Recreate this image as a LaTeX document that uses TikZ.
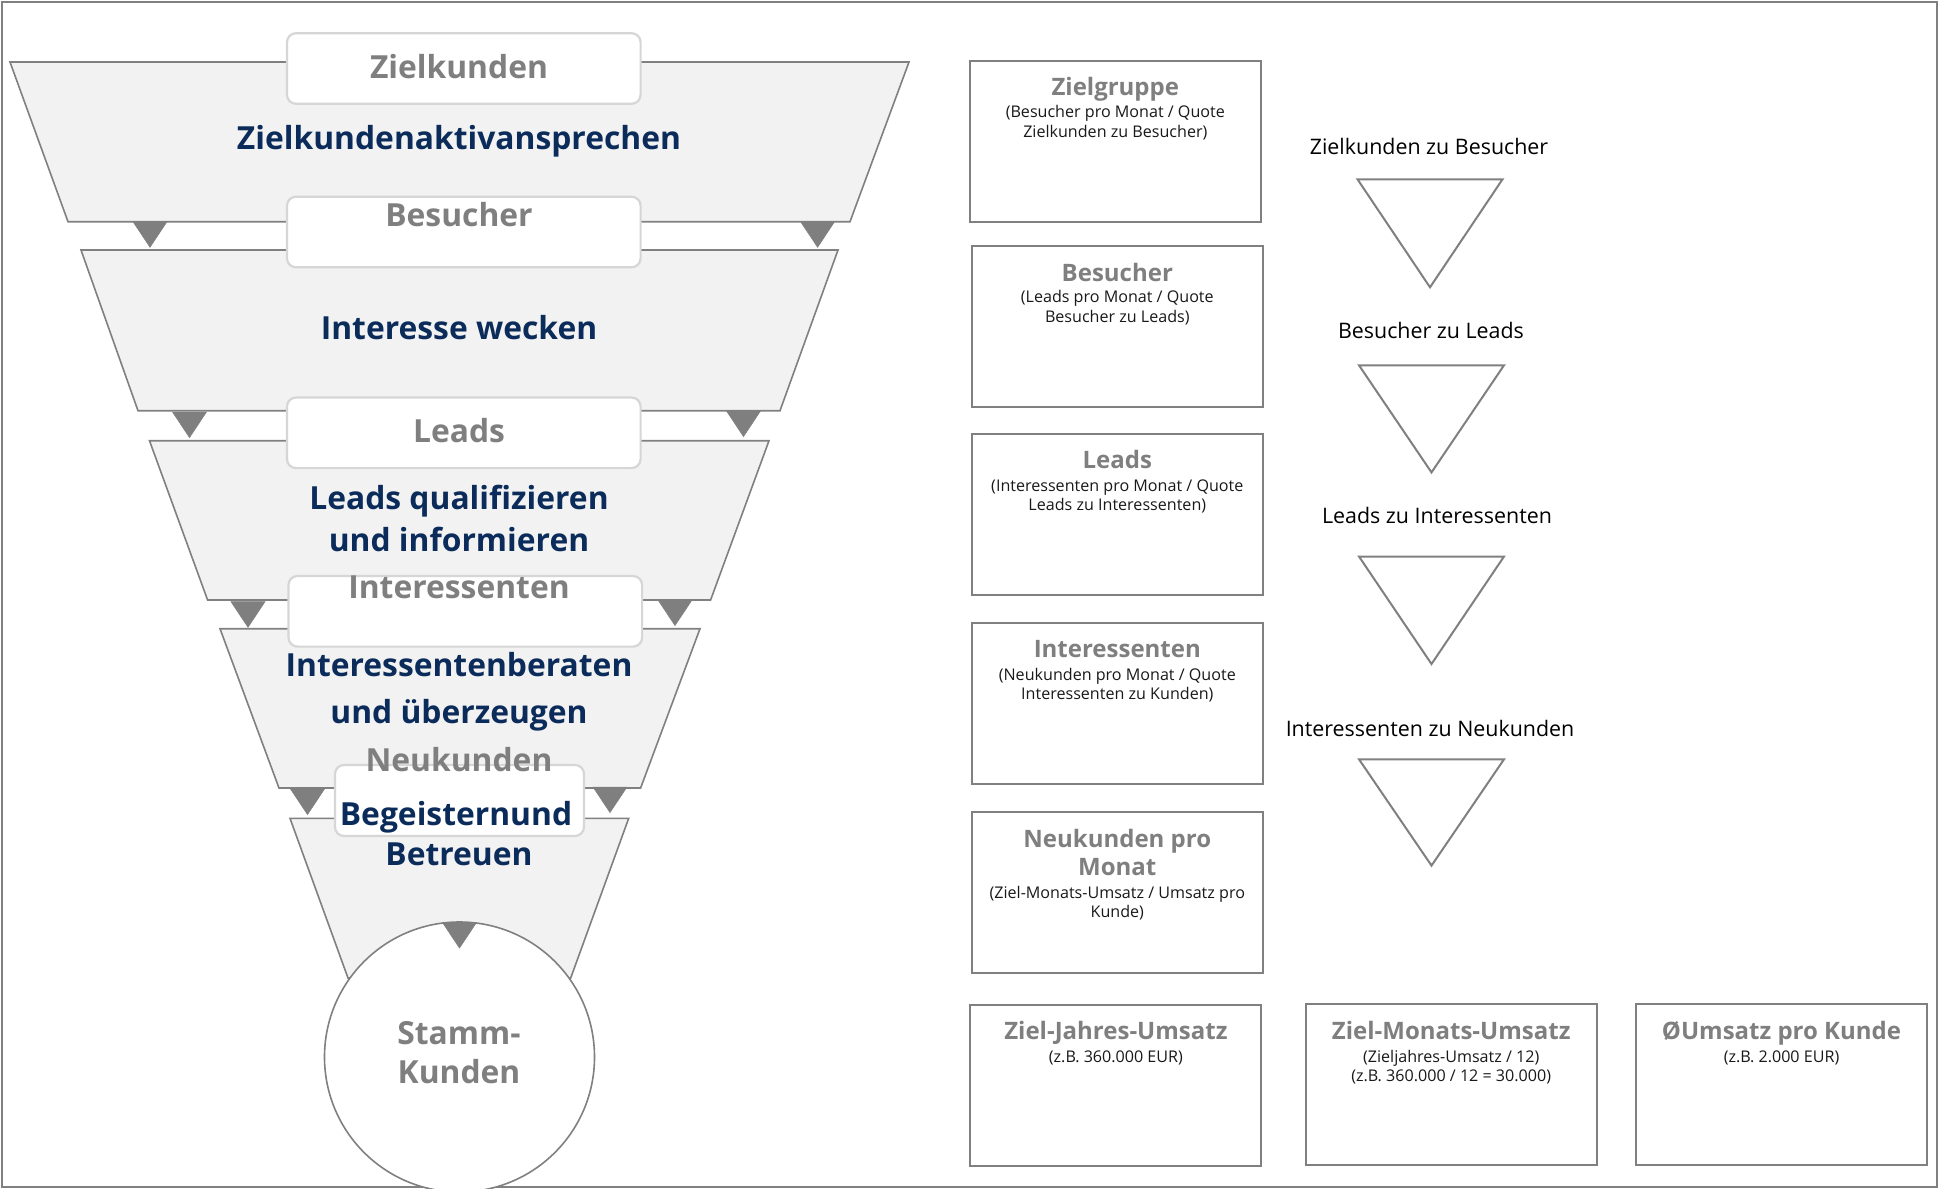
\documentclass[tikz,border=0pt]{standalone}
\usepackage{fontspec}
\setmainfont{Open Sans}
\definecolor{linegray}{HTML}{808080}
\definecolor{labgray}{HTML}{7F7F7F}
\definecolor{trigray}{HTML}{7F7F7F}
\definecolor{layerfill}{HTML}{F2F2F2}
\definecolor{tagborder}{HTML}{D6D6D6}
\definecolor{navy}{HTML}{0B2C5A}
\tikzset{
 layer/.style={fill=layerfill, draw=linegray, line width=1.6pt, line join=miter},
 tagbox/.style={draw=tagborder, fill=white, line width=2.2pt, rounded corners=9pt, minimum width=353.6pt, minimum height=70.6pt, inner sep=0pt},
 downtri/.style={fill=trigray, draw=trigray, line width=0.5pt},
 stagetxt/.style={text=labgray, font=\fontsize{31.8}{38}\selectfont\bfseries, anchor=base, inner sep=0pt, yshift=-1.3pt},
 actiontxt/.style={text=navy, font=\fontsize{31.8}{38}\selectfont\bfseries, anchor=base, inner sep=0pt, yshift=-1.3pt},
 calcbox/.style={draw=linegray, fill=white, line width=2pt, minimum width=291pt, minimum height=161pt, inner sep=0pt},
 calctitle/.style={text=labgray, font=\fontsize{24}{29}\selectfont\bfseries, anchor=base, inner sep=0pt, yshift=-1.2pt},
 calcsub/.style={text=black!90, font=\fontsize{16.1}{19}\selectfont, anchor=base, inner sep=0pt, yshift=-0.6pt},
 ratetxt/.style={text=black, font=\fontsize{21.4}{26}\selectfont, anchor=base, inner sep=0pt, yshift=-0.8pt},
 ratetri/.style={draw=linegray, fill=white, line width=2pt, line join=miter},
}
\begin{document}
\begin{tikzpicture}[x=1pt,y=-1pt]
\useasboundingbox (0,0) rectangle (1939,1189);
\begin{scope}
\clip (0,0) rectangle (1939,1189);
\fill[white] (0,0) rectangle (1939,1189);
\draw[linegray, line width=2pt] (2,2) rectangle (1937,1187);

% funnel layers
\draw[layer] (10,62) -- (909,62) -- (850,221.7) -- (68,221.7) -- cycle;
\draw[layer] (81,250) -- (838,250) -- (780,410.7) -- (138,410.7) -- cycle;
\draw[layer] (149.5,440.7) -- (769,440.7) -- (710.6,600) -- (207.6,600) -- cycle;
\draw[layer] (220,628.7) -- (700,628.7) -- (640.6,788) -- (279,788) -- cycle;
\draw[layer] (290,818.3) -- (628.7,818.3) -- (570.7,978) -- (348,978) -- cycle;

% small arrow triangles
\draw[downtri] (133,221.7) -- ++(34,0) -- ++(-17,25.6) -- cycle;
\draw[downtri] (800.6,221.7) -- ++(34,0) -- ++(-17,25.6) -- cycle;
\draw[downtri] (172.5,412) -- ++(34,0) -- ++(-17,25.6) -- cycle;
\draw[downtri] (726.5,411) -- ++(34,0) -- ++(-17,25.6) -- cycle;
\draw[downtri] (231,601.7) -- ++(34,0) -- ++(-17,25.6) -- cycle;
\draw[downtri] (658,600) -- ++(34,0) -- ++(-17,25.6) -- cycle;
\draw[downtri] (290.5,789) -- ++(34,0) -- ++(-17,25.6) -- cycle;
\draw[downtri] (593,787) -- ++(34,0) -- ++(-17,25.6) -- cycle;

% stage tag boxes
\node[tagbox] (tag1) at (463.8,68.5) {};
\node[tagbox] (tag2) at (463.8,232) {};
\node[tagbox] (tag3) at (463.8,432.8) {};
\node[tagbox] (tag4) at (465.3,611.3) {};
\node[tagbox, minimum width=249pt, minimum height=71pt] (tag5) at (459.5,800.5) {};

% circle
\node[circle, draw=linegray, fill=white, line width=1.6pt, minimum size=270pt, inner sep=0pt] (stamm) at (459.5,1057) {};
\draw[downtri] (442.5,922.5) -- ++(34,0) -- ++(-17,25.6) -- cycle;

% stage labels
\node[stagetxt] (s1) at (459,76.7) {Zielkunden};
\node[stagetxt] (s2) at (459,225) {Besucher};
\node[stagetxt] (s3) at (459,440.7) {Leads};
\node[stagetxt] (s4) at (459,596.7) {Interessenten};
\node[stagetxt] (s5) at (459,770) {Neukunden};
\node[stagetxt] (s6a) at (459,1043.3) {Stamm-};
\node[stagetxt] (s6b) at (459,1081.7) {Kunden};

% action labels
\node[actiontxt] (a1) at (459,148.3) {Zielkundenaktivansprechen};
\node[actiontxt] (a2) at (459,338.3) {Interesse wecken};
\node[actiontxt] (a3a) at (459,508.3) {Leads qualifizieren};
\node[actiontxt] (a3b) at (459,550) {und informieren};
\node[actiontxt] (a4a) at (459,675) {Interessentenberaten};
\node[actiontxt] (a4b) at (459,721.7) {und überzeugen};
\node[actiontxt] (a5a) at (456,824) {Begeisternund};
\node[actiontxt] (a5b) at (459,864) {Betreuen};

% calculation boxes
\node[calcbox] (cA) at (1115.3,141.3) {};
\node[calcbox] (cB) at (1117.3,326.8) {};
\node[calcbox] (cC) at (1117.3,514.5) {};
\node[calcbox] (cD) at (1117.3,703.5) {};
\node[calcbox] (cE) at (1117.3,892.7) {};
\node[calcbox] (cF) at (1115.9,1085.5) {};
\node[calcbox] (cG) at (1451.2,1084.5) {};
\node[calcbox] (cH) at (1781.5,1084.5) {};

\node[calctitle] (tA) at (1115.3,94.3) {Zielgruppe};
\node[calcsub] (uA1) at (1115.3,117.3) {(Besucher pro Monat / Quote};
\node[calcsub] (uA2) at (1115.3,136.7) {Zielkunden zu Besucher)};

\node[calctitle] (tB) at (1117.3,280) {Besucher};
\node[calcsub] (uB1) at (1117.3,302) {(Leads pro Monat / Quote};
\node[calcsub] (uB2) at (1117.3,321.7) {Besucher zu Leads)};

\node[calctitle] (tC) at (1117.3,467.6) {Leads};
\node[calcsub] (uC1) at (1117.3,490.6) {(Interessenten pro Monat / Quote};
\node[calcsub] (uC2) at (1117.3,510) {Leads zu Interessenten)};

\node[calctitle] (tD) at (1117.3,656.6) {Interessenten};
\node[calcsub] (uD1) at (1117.3,679.6) {(Neukunden pro Monat / Quote};
\node[calcsub] (uD2) at (1117.3,699) {Interessenten zu Kunden)};

\node[calctitle] (tE1) at (1117.3,846) {Neukunden pro};
\node[calctitle] (tE2) at (1117.3,874) {Monat};
\node[calcsub] (uE1) at (1117.3,898) {(Ziel-Monats-Umsatz / Umsatz pro};
\node[calcsub] (uE2) at (1117.3,916.5) {Kunde)};

\node[calctitle] (tF) at (1115.9,1038.6) {Ziel-Jahres-Umsatz};
\node[calcsub] (uF1) at (1115.9,1061.6) {(z.B. 360.000 EUR)};

\node[calctitle] (tG) at (1451.2,1038.6) {Ziel-Monats-Umsatz};
\node[calcsub] (uG1) at (1451.2,1061.6) {(Zieljahres-Umsatz / 12)};
\node[calcsub] (uG2) at (1451.2,1081) {(z.B. 360.000 / 12 = 30.000)};

\node[calctitle] (tH) at (1781.5,1038.6) {ØUmsatz pro Kunde};
\node[calcsub] (uH1) at (1781.5,1061.6) {(z.B. 2.000 EUR)};

% conversion rates
\node[ratetxt] (r1) at (1429,153.3) {Zielkunden zu Besucher};
\node[ratetxt] (r2) at (1431,337.7) {Besucher zu Leads};
\node[ratetxt] (r3) at (1437,523) {Leads zu Interessenten};
\node[ratetxt] (r4) at (1430,735.6) {Interessenten zu Neukunden};

\draw[ratetri] (1357.5,179.3) -- (1502.5,179.3) -- (1430,287.3) -- cycle;
\draw[ratetri] (1359,365.3) -- (1504,365.3) -- (1431.5,472.4) -- cycle;
\draw[ratetri] (1359,556.5) -- (1504,556.5) -- (1431.5,664) -- cycle;
\draw[ratetri] (1359,759.3) -- (1504,759.3) -- (1431.5,865.6) -- cycle;
\end{scope}
\end{tikzpicture}
\end{document}
